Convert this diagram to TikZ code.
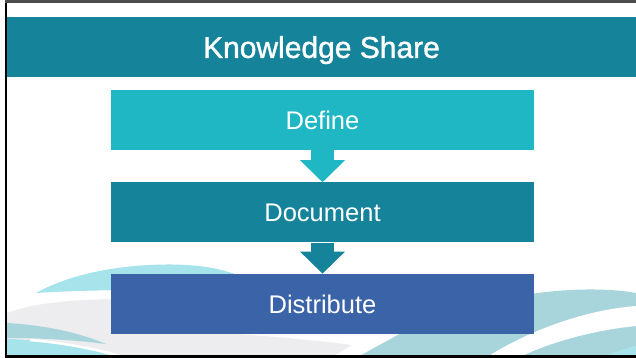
\documentclass[tikz,border=0pt]{standalone}
\usepackage{fontspec}
\setmainfont{Liberation Sans}
\newfontfamily\titlefont{Liberation Sans}[FakeBold=1.2]
\usetikzlibrary{positioning,arrows.meta}
\definecolor{titleteal}{HTML}{15839A}
\definecolor{defcyan}{HTML}{1FB7C4}
\definecolor{distblue}{HTML}{3B64A8}
\definecolor{wavecyan}{HTML}{A7E3EA}
\definecolor{wavegray}{HTML}{EDEDF0}
\definecolor{waveteal}{HTML}{A8D5DC}
\tikzset{
  stage/.style={minimum width=423pt, minimum height=60pt, inner sep=0pt,
    text=white, text depth=0pt, font=\fontsize{25.5}{30}\selectfont},
  flow/.style={draw=#1, line width=23pt,
    -{Triangle[width=45pt,length=22pt,line width=0pt]}}
}

\begin{document}
\begin{tikzpicture}[x=1pt,y=-1pt]
  \useasboundingbox (0,0) rectangle (636,358);
  \fill[white] (0,0) rectangle (636,358);
  % waves
  \fill[wavecyan] (36,293) .. controls (70,274) and (120,264) .. (173,264.5)
    .. controls (200,265) and (220,268) .. (240,276) -- (240,291)
    .. controls (150,289) and (80,290) .. (36,293) -- cycle;
  \fill[wavegray] (7,313) .. controls (30,304) and (70,299) .. (120,299) -- (240,300)
    -- (225,333) .. controls (270,336) and (320,341) .. (352,345) -- (332,357)
    -- (7,357) -- cycle;
  \fill[waveteal] (7,323) .. controls (45,325) and (80,333) .. (106,344)
    .. controls (75,340) and (40,338) .. (7,338) -- cycle;
  \fill[wavecyan] (7,339) .. controls (50,340) and (85,347) .. (115,357) -- (7,357) -- cycle;
  \draw[white, line width=2.5pt] (30,340) .. controls (65,343) and (95,349) .. (120,356);
  \fill[waveteal] (358,357) .. controls (375,347) and (395,337) .. (415,325) -- (525,295)
    .. controls (565,288) and (610,288) .. (636,293) -- (636,357) -- cycle;
  \fill[white] (487,357) .. controls (530,330) and (585,310) .. (636,306) -- (636,326)
    .. controls (595,330) and (550,342) .. (520,357) -- cycle;
  \fill[wavecyan] (605,357) .. controls (615,352) and (625,348) .. (636,346) -- (636,357) -- cycle;
  % frame
  \draw[line width=2.5pt] (6,0) -- (6,358);
  \draw[line width=3pt, black!70] (5,1.5) -- (636,1.5);
  \draw[line width=3pt] (5,356.5) -- (636,356.5);

  \node[fill=titleteal, minimum width=629pt, minimum height=60pt, inner sep=0pt,
    text=white, text depth=0pt, font=\titlefont\fontsize{30}{36}\selectfont]
    (title) at (321.5,47) {Knowledge Share};
  \node[stage, fill=defcyan] (define) at (322.5,120) {Define};
  \node[stage, fill=titleteal, below=32pt of define] (document) {Document};
  \node[stage, fill=distblue, below=31pt of document] (distribute) {Distribute};
  \draw[flow=defcyan] (define) -- (document);
  \draw[flow=titleteal] (document) -- (distribute);
\end{tikzpicture}
\end{document}
